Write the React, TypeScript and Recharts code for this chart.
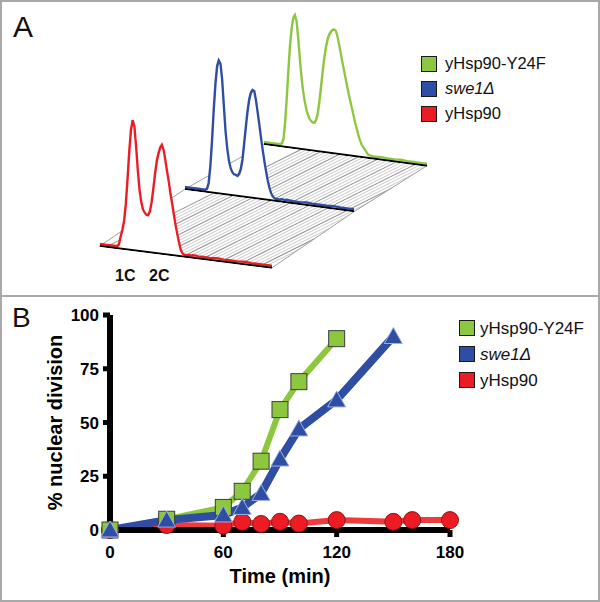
import { Area, AreaChart, Line, LineChart, XAxis, YAxis } from "recharts";

const FONT = '"Liberation Sans", Arial, Helvetica, sans-serif';
const GREEN = "#8dc63f";
const BLUE = "#2f4ea3";
const RED = "#ed1c24";

const seriesNames = ["yHsp90-Y24F", "swe1\u0394", "yHsp90"];
const seriesColors = [GREEN, BLUE, RED];

// ---- Panel A: DNA content histograms (channel vs. count)
const channels = [
  0, 4, 8, 10, 11, 12, 13, 14, 15, 16, 17, 18, 19, 20, 21, 22, 23, 24, 25, 26, 27, 28, 29, 30, 31, 32, 33,
  34, 35, 36, 37, 38, 39, 40, 41, 42, 43, 44, 45, 46, 47, 48, 49, 50, 51, 52, 53, 54, 55, 56, 57, 58, 59,
  60, 64, 68, 72, 76, 80, 84, 88, 92, 96, 100,
];
const greenCounts = [
  2, 2, 2, 2, 3, 8, 25, 50, 78, 103, 120, 130, 133, 127, 110, 90, 72, 58, 48, 40, 35, 31, 29, 28, 28, 31, 38,
  50, 65, 80, 94, 105, 113, 118, 121, 123, 124, 123, 118, 110, 102, 93, 85, 77, 69, 61, 54, 47, 40, 33, 27, 21,
  16, 12, 3, 2, 2.5, 2, 2, 2.5, 2, 2, 2, 2,
];
const blueCounts = [
  2, 2, 2, 2, 2, 2, 3, 9, 26, 52, 83, 109, 127, 133, 130, 114, 88, 63, 46, 34, 27, 23, 21, 21, 20, 22, 27,
  37, 53, 70, 86, 98, 105, 108, 107, 98, 86, 74, 61, 49, 38, 28, 19, 12, 7, 4, 2.5, 2, 2, 2, 2.5, 2.5, 2,
  2.5, 2, 2, 2.5, 2, 2, 2, 2.5, 2, 2, 2,
];
const redCounts = [
  2, 2, 2, 2, 4, 12, 19, 28, 45, 70, 98, 120, 130, 124, 104, 80, 61, 49, 42, 39, 37, 37, 41, 50, 64, 79, 92,
  100, 106, 109, 104, 94, 83, 73, 61, 51, 40, 30, 21, 13, 6, 3, 2, 2, 2, 2, 2, 2.5, 2.5, 2.5, 2, 2, 2,
  2, 2, 2.5, 2, 2, 2, 2.5, 2, 2, 2, 2,
];

// ---- Panel B: % nuclear division over time
const greenTimes = [0, 30, 60, 70, 80, 90, 100, 120];
const greenPct = [0, 5, 10.5, 18, 32, 56, 69, 89];
const blueTimes = [0, 30, 60, 70, 80, 90, 100, 120, 150];
const bluePct = [0, 4.6, 7, 10.5, 17, 33, 47, 60.5, 90];
const redTimes = [0, 30, 60, 70, 80, 90, 100, 120, 150, 160, 180];
const redPct = [0, 2.3, 2, 3.8, 2.8, 3.8, 3, 4.6, 3.8, 4.6, 4.6];
const timeTicks = [0, 60, 120, 180];
const pctTicks = [0, 25, 50, 75, 100];

const PLOT_H = 140;

const histograms = [
  { color: GREEN, counts: greenCounts, left: 264, base: 144, width: 163, skew: 7.6 },
  { color: BLUE, counts: blueCounts, left: 184.8, base: 189.3, width: 169, skew: 7.5 },
  { color: RED, counts: redCounts, left: 99.5, base: 246, width: 172, skew: 7.2 },
];

const floor = [
  [99.5, 246],
  [184.8, 189.3],
  [264, 144],
  [427, 165.7],
  [354, 211.7],
  [271.7, 268],
];

function Histogram({ color, counts, left, base, width, skew }: any) {
  const data = channels.map((ch, i) => ({ ch, v: counts[i] }));
  return (
    <div
      style={{
        position: "absolute",
        left,
        top: base - PLOT_H,
        width,
        height: PLOT_H + 1,
        transform: `skewY(${skew}deg)`,
        transformOrigin: `0px ${PLOT_H}px`,
      }}
    >
      <AreaChart width={width} height={PLOT_H + 1} data={data} margin={{ top: 0, right: 0, bottom: 0, left: 0 }}>
        <XAxis
          dataKey="ch"
          type="number"
          domain={[0, 100]}
          tick={false}
          tickLine={false}
          axisLine={{ stroke: "#000", strokeWidth: 2 }}
          height={1}
        />
        <YAxis hide domain={[0, PLOT_H]} />
        <Area
          type="linear"
          dataKey="v"
          stroke={color}
          strokeWidth={2.4}
          fill="#fff"
          fillOpacity={1}
          dot={false}
          activeDot={false}
          isAnimationActive={false}
        />
      </AreaChart>
    </div>
  );
}

function Floor() {
  const hatches = [];
  for (let i = 0; i < 34; i++) {
    const x = 20 + i * 6;
    hatches.push(
      <line
        key={i}
        x1={x}
        y1={290}
        x2={x + 340}
        y2={120}
        stroke={i % 4 === 0 ? "#8f8f8f" : "#c4c4c4"}
        strokeWidth={i % 4 === 0 ? 1.1 : 0.9}
      />
    );
  }
  const pts = floor.map((p) => p.join(",")).join(" ");
  return (
    <svg width={600} height={297} style={{ position: "absolute", left: 0, top: 0 }}>
      <defs>
        <clipPath id="floorClip">
          <polygon points={pts} />
        </clipPath>
      </defs>
      <g clipPath="url(#floorClip)">{hatches}</g>
      <polygon points={pts} fill="none" stroke="#a0a0a0" strokeWidth={1} />
      <text x={13} y={37} fontSize={30} fontFamily={FONT} fill="#111">
        A
      </text>
      <text x={115} y={281} fontSize={16} fontWeight={700} fontFamily={FONT} fill="#111">
        1C
      </text>
      <text x={149} y={281} fontSize={16} fontWeight={700} fontFamily={FONT} fill="#111">
        2C
      </text>
    </svg>
  );
}

function LegendList({ gap, rowH, fontSize }: { gap: number; rowH: number; fontSize: number }) {
  return (
    <div style={{ fontFamily: FONT, fontSize, color: "#111" }}>
      {seriesNames.map((name, i) => (
        <div key={name} style={{ display: "flex", alignItems: "center", height: rowH }}>
          <div
            style={{
              width: 16,
              height: 16,
              boxSizing: "border-box",
              border: "1.5px solid #1a1a1a",
              background: seriesColors[i],
              marginRight: gap,
            }}
          />
          <span style={{ fontStyle: i === 1 ? "italic" : "normal", lineHeight: 1 }}>{name}</span>
        </div>
      ))}
    </div>
  );
}

const squareDot = (p: any) => (
  <rect key={`s${p.index}`} x={p.cx - 8} y={p.cy - 8} width={16} height={16} fill={GREEN} stroke="#3d3d3d" strokeWidth={1} />
);
const triangleDot = (p: any) => (
  <polygon
    key={`t${p.index}`}
    points={`${p.cx},${p.cy - 9} ${p.cx + 9},${p.cy + 7} ${p.cx - 9},${p.cy + 7}`}
    fill={BLUE}
    stroke="#9eb0e6"
    strokeWidth={1}
  />
);
const circleDot = (p: any) => (
  <circle key={`c${p.index}`} cx={p.cx} cy={p.cy} r={8.5} fill={RED} stroke="#8e1515" strokeWidth={1} />
);

const tickStyle = { fontSize: 17, fontWeight: 700, fill: "#000", fontFamily: FONT };

export default function App() {
  const greenData = greenTimes.map((t, i) => ({ t, p: greenPct[i] }));
  const blueData = blueTimes.map((t, i) => ({ t, p: bluePct[i] }));
  const redData = redTimes.map((t, i) => ({ t, p: redPct[i] }));

  return (
    <div style={{ position: "absolute", left: 0, top: 0, width: 600, height: 602, background: "#fff", overflow: "hidden" }}>
      {/* panel A */}
      <div
        style={{
          position: "absolute",
          left: 0,
          top: 0,
          width: 600,
          height: 297,
          boxSizing: "border-box",
          border: "2px solid #a9a9a9",
        }}
      />
      <Floor />
      {histograms.map((h) => (
        <Histogram key={h.color} {...h} />
      ))}
      <div style={{ position: "absolute", left: 421, top: 51 }}>
        <LegendList gap={8} rowH={25} fontSize={16.5} />
      </div>

      {/* panel B */}
      <div
        style={{
          position: "absolute",
          left: 0,
          top: 295,
          width: 600,
          height: 307,
          boxSizing: "border-box",
          border: "2px solid #a9a9a9",
        }}
      />
      <svg width={60} height={40} style={{ position: "absolute", left: 0, top: 297 }}>
        <text x={12} y={30} fontSize={28} fontFamily={FONT} fill="#111">
          B
        </text>
      </svg>
      <div style={{ position: "absolute", left: 0, top: 297 }}>
        <LineChart width={600} height={305} margin={{ top: 18, right: 150, bottom: 32, left: 0 }}>
          <XAxis
            type="number"
            dataKey="t"
            domain={[0, 180]}
            ticks={timeTicks}
            height={40}
            axisLine={{ stroke: "#000", strokeWidth: 6 }}
            tickLine={{ stroke: "#000", strokeWidth: 5 }}
            tickSize={7}
            tickMargin={9}
            tick={tickStyle}
            allowDuplicatedCategory={false}
            label={{
              value: "Time (min)",
              position: "bottom",
              offset: -1,
              style: { fontSize: 20, fontWeight: 700, fill: "#000", fontFamily: FONT },
            }}
          />
          <YAxis
            type="number"
            domain={[0, 100]}
            ticks={pctTicks}
            width={110}
            axisLine={{ stroke: "#000", strokeWidth: 6 }}
            tickLine={{ stroke: "#000", strokeWidth: 5 }}
            tickSize={7}
            tickMargin={4}
            tick={tickStyle}
            label={{
              value: "% nuclear division",
              angle: -90,
              position: "center",
              dx: 0,
              style: { fontSize: 20, fontWeight: 700, fill: "#000", fontFamily: FONT },
            }}
          />
          <Line
            data={redData}
            dataKey="p"
            type="linear"
            stroke="#ef3b3b"
            strokeWidth={6}
            dot={circleDot}
            activeDot={false}
            isAnimationActive={false}
          />
          <Line
            data={greenData}
            dataKey="p"
            type="linear"
            stroke={GREEN}
            strokeWidth={6}
            dot={squareDot}
            activeDot={false}
            isAnimationActive={false}
          />
          <Line
            data={blueData}
            dataKey="p"
            type="linear"
            stroke={BLUE}
            strokeWidth={8}
            dot={triangleDot}
            activeDot={false}
            isAnimationActive={false}
          />
        </LineChart>
      </div>
      <div style={{ position: "absolute", left: 459, top: 315 }}>
        <LegendList gap={5} rowH={26} fontSize={17} />
      </div>
    </div>
  );
}
